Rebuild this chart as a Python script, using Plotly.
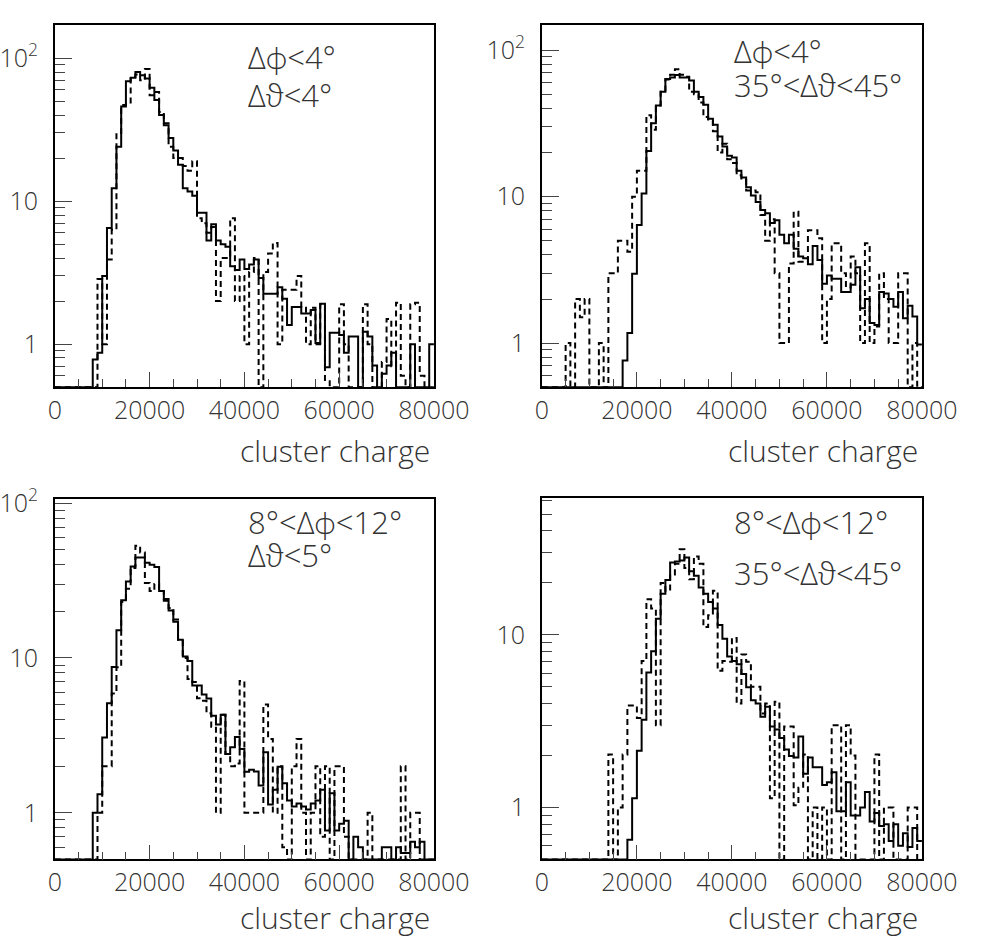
import math
import plotly.graph_objects as go

# ---------------- data ----------------
BIN_WIDTH = 1000
N_BINS = 80
bin_edges = [i * BIN_WIDTH for i in range(N_BINS + 1)]

x_tick_vals = [0, 20000, 40000, 60000, 80000]
x_tick_text = ["0", "20000", "40000", "60000", "80000"]
x_minor_vals = [v for v in range(5000, 80000, 5000) if v % 20000 != 0]
y_tick_vals = [1, 10, 100]
y_tick_text = ["1", "10", "10<sup>2</sup>"]
y_minor_vals = [0.6, 0.7, 0.8, 0.9, 2, 3, 4, 5, 6, 7, 8, 9,
                20, 30, 40, 50, 60, 70, 80, 90]

# top-left: dphi<4, dtheta<4
tl_solid = [0, 0, 0, 0, 0, 0, 0, 0, 0.78, 0.87,
            3.0, 6.5, 12.3, 24, 46, 69, 73, 80, 76, 72,
            62, 51, 40, 34, 27.6, 22.6, 18, 12.3, 11.7, 10.9,
            8.3, 8.3, 5.3, 6.9, 5.3, 5.0, 4.8, 3.5, 3.3, 3.9,
            3.35, 3.6, 3.9, 2.9, 2.25, 2.25, 2.25, 2.5, 2.08, 1.36,
            1.82, 1.82, 1.64, 1.64, 1.73, 1.02, 1.92, 0.69, 1.2, 1.2,
            1.16, 0.87, 1.13, 1.13, 0, 1.22, 1.13, 0.71, 0, 0.62,
            0.71, 0.87, 0, 0, 0, 1.0, 0, 0, 0, 1.0]
tl_dashed = [0, 0, 0, 0, 0, 0, 0, 0, 0, 2.86,
             1.0, 3.9, 6.3, 30, 47, 49, 74, 77, 70, 84,
             55, 58, 42, 35, 24, 20, 20, 17.6, 16.3, 19,
             7.6, 7.0, 6.0, 6.6, 2.0, 4.0, 4.0, 7.6, 2.0, 3.0,
             1.0, 3.2, 4.0, 0, 3.2, 4.3, 5.1, 1.0, 2.4, 2.4,
             2.4, 3.0, 1.8, 1.0, 1.8, 1.0, 1.9, 0.55, 0, 0,
             1.9, 1.0, 0, 0, 0, 1.9, 1.0, 0, 0, 0.75,
             1.5, 0.7, 1.95, 0.6, 0, 1.9, 1.95, 0.6, 0, 0]

# top-right: dphi<4, 35<dtheta<45
tr_solid = [0, 0, 0, 0, 0, 0, 0, 0, 0, 0,
            0, 0, 0, 0, 0, 0, 0, 0.76, 1.17, 2.97,
            6.4, 10.5, 20.5, 31.7, 42, 52, 63.5, 65, 67.6, 65,
            65, 62, 52, 48, 42.5, 34, 31, 25.8, 22, 19,
            18.5, 15, 13.5, 11.6, 10.2, 9.2, 8.1, 7.7, 6.6, 6.9,
            5.5, 4.8, 5.5, 4.4, 3.9, 3.8, 3.45, 4.6, 3.7, 2.54,
            2.9, 2.75, 2.75, 2.23, 2.23, 2.5, 3.3, 1.73, 2.0, 1.37,
            1.33, 2.23, 2.18, 2.0, 1.77, 2.23, 1.48, 1.8, 1.52, 0.98]
tr_dashed = [0, 0, 0, 0, 0, 1.0, 0, 2.0, 1.5, 2.0,
             0, 0, 1.0, 0, 3.0, 3.0, 5.0, 5.0, 4.2, 10,
             15, 15, 36, 28.6, 42, 52, 63, 68, 74, 68,
             66, 52, 50, 44, 35, 33, 28, 20, 23, 18,
             17, 14, 13, 11, 11, 10.7, 7.5, 5.0, 7.0, 3.0,
             1.0, 1.0, 3.5, 7.9, 3.6, 3.6, 5.9, 5.9, 5.2, 1.0,
             2.0, 4.8, 4.8, 3.0, 2.4, 3.9, 3.0, 1.0, 4.8, 1.0,
             1.3, 3.0, 2.0, 1.0, 1.0, 3.0, 3.0, 0, 1.0, 0]

# bottom-left: 8<dphi<12, dtheta<5
bl_solid = [0, 0, 0, 0, 0, 0, 0, 0, 1.0, 1.32,
            3.06, 5.1, 8.75, 15.1, 23.6, 31.1, 38.9, 44.5, 44.5, 41.2,
            40, 38.6, 27, 23.4, 20.2, 17.1, 13.1, 10.2, 9.55, 6.64,
            6.64, 5.8, 5.47, 4.24, 3.71, 4.3, 2.4, 2.65, 3.09, 2.58,
            1.84, 1.9, 1.85, 1.5, 2.46, 1.13, 1.41, 1.98, 1.55, 1.2,
            1.1, 1.15, 1.1, 1.05, 1.15, 1.2, 1.41, 0.77, 1.34, 0.77,
            0.85, 0.89, 0, 0.7, 0.6, 0, 0, 0, 0, 0.6,
            0.6, 0, 0.6, 0.55, 0.55, 0.65, 0.6, 0.65, 0, 0]
bl_dashed = [0, 0, 0, 0, 0, 0, 0, 0, 0, 1.0,
             2.0, 2.0, 5.9, 8.7, 23, 28, 38, 53, 48, 30.5,
             27, 30, 27, 24, 21, 17.7, 13.1, 10, 7.3, 7.0,
             5.5, 5.3, 4.4, 3.6, 1.0, 4.3, 2.4, 2.0, 2.08, 7.1,
             1.0, 1.0, 1.0, 1.0, 5.0, 3.0, 1.0, 2.0, 0.6, 0,
             2.0, 3.0, 1.0, 0, 1.0, 2.0, 0.7, 2.0, 0, 2.0,
             2.0, 0.7, 0, 0, 0, 0, 1.0, 0, 0, 0,
             0, 0, 0, 2.0, 0, 1.0, 1.0, 0, 0, 0]

# bottom-right: 8<dphi<12, 35<dtheta<45
br_solid = [0, 0, 0, 0, 0, 0, 0, 0, 0, 0,
            0, 0, 0, 0, 0, 0, 0, 0, 0.65, 1.13,
            2.13, 3.22, 6.06, 8.04, 12.4, 17.3, 20.8, 26.3, 26.6, 27,
            28.1, 23.4, 22, 18.8, 17.3, 15.5, 14.2, 11.4, 9.5, 7.5,
            7.05, 6.75, 5.93, 4.98, 4.18, 4.0, 3.36, 3.83, 2.95, 2.83,
            2.53, 2.17, 1.99, 1.95, 2.58, 1.57, 1.95, 1.71, 1.71, 1.35,
            1.4, 1.6, 0.95, 0.95, 1.4, 0.9, 0.9, 1.0, 1.23, 0.83,
            0.93, 0.78, 0.8, 0.64, 0.8, 0.6, 0.71, 0.59, 0.76, 0.64]
br_dashed = [0, 0, 0, 0, 0, 0, 0, 0, 0, 0,
             0, 0, 0, 0, 2.03, 0, 1.0, 2.03, 3.9, 3.9,
             3.3, 7.05, 16.1, 14.2, 3.0, 20, 18, 22.4, 25.8, 31.3,
             24.4, 21, 28.5, 25.8, 11.1, 13, 18, 6.2, 7.05, 7.0,
             9.6, 4.0, 7.7, 7.0, 5.0, 5.0, 3.5, 4.0, 1.13, 4.1,
             0, 2.95, 2.95, 1.03, 1.3, 2.03, 0, 1.0, 0, 1.0,
             0, 3.0, 3.0, 0, 3.0, 2.0, 0, 0, 0, 0,
             2.03, 0, 1.0, 1.0, 0, 0, 0, 1.0, 1.0, 0]

tl_labels = ["Δϕ&lt;4°", "Δϑ&lt;4°"]
tr_labels = ["Δϕ&lt;4°", "35°&lt;Δϑ&lt;45°"]
bl_labels = ["8°&lt;Δϕ&lt;12°", "Δϑ&lt;5°"]
br_labels = ["8°&lt;Δϕ&lt;12°", "35°&lt;Δϑ&lt;45°"]
x_title = "cluster charge"

y_floor = 0.5
y_tops = [171, 149, 106, 62]

# ---------------- layout helpers ----------------
W, H = 999, 938
FONT = "Open Sans, Lato, DejaVu Sans, sans-serif"
FW = 300
TXT = "#333333"
TICK_SIZE = 25
LABEL_SIZE = 31
TITLE_SIZE = 30
LINE_SPACING = 1.3   # plotly's multi-line spacing factor


def px_x(p):
    return p / W


def px_y(p):
    return 1 - p / H


panels = [
    dict(solid=tl_solid, dashed=tl_dashed, labels=tl_labels, top=y_tops[0],
         xd=(48, 445), yd=(8, 377), lab_x=248, lab_y=(37, 75), title_y=441),
    dict(solid=tr_solid, dashed=tr_dashed, labels=tr_labels, top=y_tops[1],
         xd=(558, 956), yd=(8, 377), lab_x=757, lab_y=(30, 64), title_y=441),
    dict(solid=bl_solid, dashed=bl_dashed, labels=bl_labels, top=y_tops[2],
         xd=(48, 445), yd=(491, 858), lab_x=248, lab_y=(510, 543), title_y=917),
    dict(solid=br_solid, dashed=br_dashed, labels=br_labels, top=y_tops[3],
         xd=(558, 956), yd=(490, 858), lab_x=757, lab_y=(510, 561), title_y=917),
]

fig = go.Figure()
annotations = []
layout = dict(width=W, height=H, margin=dict(l=0, r=0, t=0, b=0),
              paper_bgcolor="white", plot_bgcolor="white", showlegend=False,
              font=dict(family=FONT, color=TXT, weight=FW))


def step_y(vals):
    ys = [max(v, y_floor) for v in vals]
    return ys + [ys[-1]]


for i, p in enumerate(panels, start=1):
    sfx = "" if i == 1 else str(i)
    xa, ya = "x" + sfx, "y" + sfx
    fig.add_trace(go.Scatter(x=bin_edges, y=step_y(p["dashed"]), mode="lines",
                             line=dict(shape="hv", color="black", width=2, dash="6px,4px"),
                             xaxis=xa, yaxis=ya, hoverinfo="skip"))
    fig.add_trace(go.Scatter(x=bin_edges, y=step_y(p["solid"]), mode="lines",
                             line=dict(shape="hv", color="black", width=2),
                             xaxis=xa, yaxis=ya, hoverinfo="skip"))
    yvals = [v for v in y_tick_vals if v <= p["top"]]
    ytext = [t for v, t in zip(y_tick_vals, y_tick_text) if v <= p["top"]]
    yminor = [v for v in y_minor_vals if y_floor < v < p["top"]]
    layout["xaxis" + sfx] = dict(
        domain=[px_x(p["xd"][0]), px_x(p["xd"][1])], anchor=ya,
        range=[0, N_BINS * BIN_WIDTH], tickmode="array",
        tickvals=x_tick_vals, ticktext=x_tick_text,
        ticks="inside", ticklen=15, tickwidth=1, tickcolor="#444",
        minor=dict(tickmode="array", tickvals=x_minor_vals, ticks="inside",
                   ticklen=8, tickwidth=1, tickcolor="#444", showgrid=False),
        showline=True, linecolor="black", linewidth=1.5, mirror=True,
        showgrid=False, zeroline=False, ticklabelstandoff=0,
        tickfont=dict(family=FONT, size=TICK_SIZE, color=TXT, weight=FW))
    layout["yaxis" + sfx] = dict(
        domain=[px_y(p["yd"][1]), px_y(p["yd"][0])], anchor=xa, type="log",
        range=[math.log10(y_floor), math.log10(p["top"])], tickmode="array",
        tickvals=yvals, ticktext=ytext,
        ticks="inside", ticklen=17, tickwidth=1, tickcolor="#444",
        minor=dict(tickmode="array", tickvals=yminor, ticks="inside",
                   ticklen=10, tickwidth=1, tickcolor="#444", showgrid=False),
        showline=True, linecolor="black", linewidth=1.5, mirror=True,
        showgrid=False, zeroline=False, ticklabelstandoff=10,
        tickfont=dict(family=FONT, size=TICK_SIZE, color=TXT, weight=FW))
    # two-line label: base font sets line spacing, span sets glyph size
    gap = p["lab_y"][1] - p["lab_y"][0]
    base = gap / LINE_SPACING
    span = '<span style="font-size:%dpx">%s</span>'
    text = "<br>".join(span % (LABEL_SIZE, t) for t in p["labels"])
    annotations.append(dict(text=text, xref="paper", yref="paper", align="left",
                            x=px_x(p["lab_x"]), y=px_y(p["lab_y"][0] - LABEL_SIZE * 0.62),
                            xanchor="left", yanchor="top", showarrow=False,
                            font=dict(family=FONT, size=base, color=TXT, weight=FW)))
    annotations.append(dict(text=x_title, xref="paper", yref="paper",
                            x=px_x(p["xd"][1] - 2), y=px_y(p["title_y"]),
                            xanchor="right", yanchor="middle", showarrow=False,
                            font=dict(family=FONT, size=TITLE_SIZE, color=TXT, weight=FW)))

layout["annotations"] = annotations
fig.update_layout(**layout)
fig.write_html("out.html")
